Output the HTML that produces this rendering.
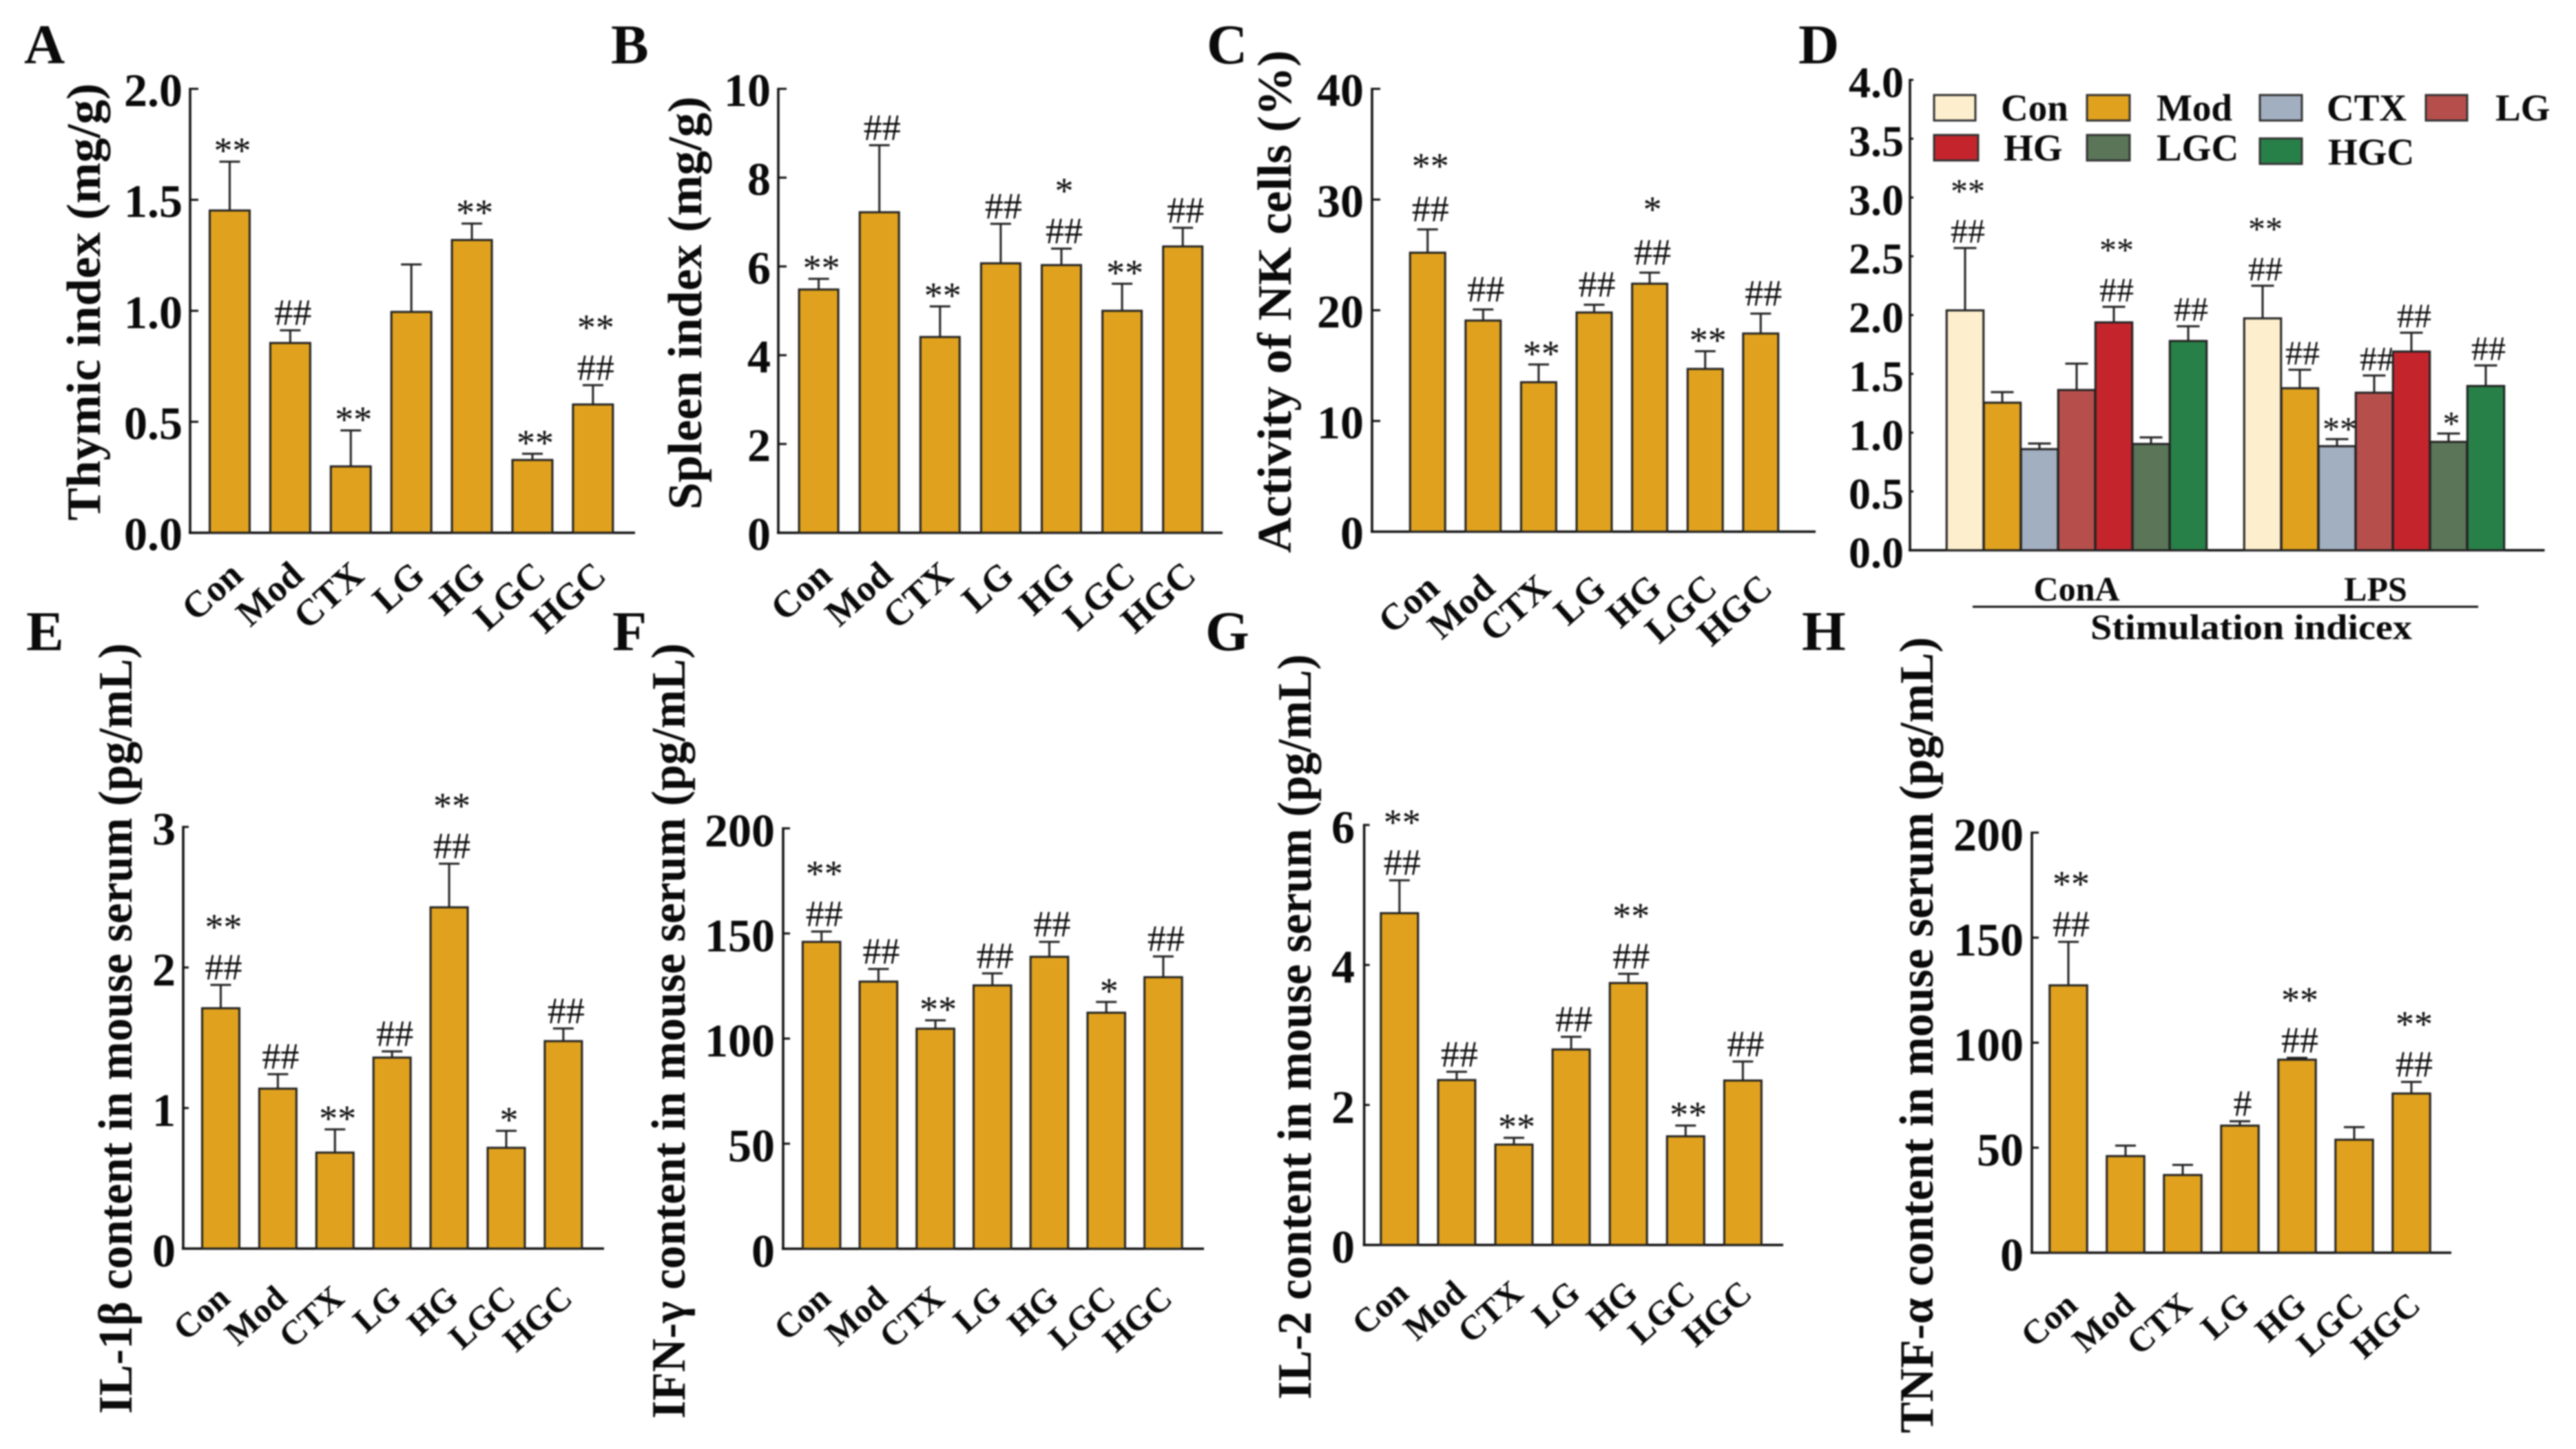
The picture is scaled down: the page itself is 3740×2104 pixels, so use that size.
<!DOCTYPE html>
<html lang="en">
<head>
<meta charset="utf-8">
<title>Immune index bar charts</title>
<style>
html,body{margin:0;padding:0;background:#fff;}
svg{display:block;filter:blur(1px);}
text{font-family:"Liberation Serif",serif;fill:#0a0a0a;}
.b{font-weight:bold;}
</style>
</head>
<body>
<svg id="figure" xmlns="http://www.w3.org/2000/svg" width="3740" height="2104" viewBox="0 0 3740 2104">
<rect x="0" y="0" width="3740" height="2104" fill="#fff"/>
<g class="b" font-size="82">
<text x="35" y="92">A</text>
<text x="887" y="92">B</text>
<text x="1752" y="92">C</text>
<text x="2611" y="92">D</text>
<text x="38" y="944">E</text>
<text x="889" y="944">F</text>
<text x="1750" y="944">G</text>
<text x="2616" y="944">H</text>
</g>
<g class="b" font-size="70">
<text transform="translate(145,756) rotate(-90)" textLength="635" lengthAdjust="spacingAndGlyphs">Thymic index (mg/g)</text>
<text transform="translate(1018,740) rotate(-90)" textLength="600" lengthAdjust="spacingAndGlyphs">Spleen index (mg/g)</text>
<text transform="translate(1874,803) rotate(-90)" textLength="730" lengthAdjust="spacingAndGlyphs">Activity of NK cells (%)</text>
<text transform="translate(191,2053) rotate(-90)" textLength="1119" lengthAdjust="spacingAndGlyphs">IL-1β content in mouse serum (pg/mL)</text>
<text transform="translate(994,2060) rotate(-90)" textLength="1126" lengthAdjust="spacingAndGlyphs">IFN-γ content in mouse serum (pg/mL)</text>
<text transform="translate(1903,2032) rotate(-90)" textLength="1082" lengthAdjust="spacingAndGlyphs">IL-2 content in mouse serum (pg/mL)</text>
<text transform="translate(2806,2081) rotate(-90)" textLength="1156" lengthAdjust="spacingAndGlyphs">TNF-α content in mouse serum (pg/mL)</text>
</g>
<g id="panels"></g>
<g id="legend" class="b" font-size="55" stroke-width="3">
<rect x="2808" y="138" width="60" height="37" fill="#FDEECD" stroke="#333"/>
<rect x="3030" y="138" width="62" height="37" fill="#E0A21E" stroke="#333"/>
<rect x="3281" y="138" width="61" height="37" fill="#A2AFC0" stroke="#333"/>
<rect x="3522" y="138" width="60" height="37" fill="#B64F4C" stroke="#333"/>
<rect x="2808" y="196" width="64" height="37" fill="#C4252D" stroke="#333"/>
<rect x="3030" y="196" width="62" height="37" fill="#5A7558" stroke="#333"/>
<rect x="3281" y="201" width="61" height="37" fill="#278048" stroke="#333"/>
<text x="2905" y="175">Con</text>
<text x="3131" y="175">Mod</text>
<text x="3378" y="175">CTX</text>
<text x="3623" y="175">LG</text>
<text x="2909" y="233">HG</text>
<text x="3131" y="233">LGC</text>
<text x="3380" y="239">HGC</text>
</g>
<g class="b">
<text x="3015" y="872" font-size="50" text-anchor="middle">ConA</text>
<text x="3449" y="872" font-size="50" text-anchor="middle">LPS</text>
<line x1="2864" y1="881" x2="3598" y2="881" stroke="#111" stroke-width="3"/>
<text x="3035" y="928" font-size="52" textLength="467" lengthAdjust="spacingAndGlyphs">Stimulation indicex</text>
</g>
</svg>
<script>
const categories = ['Con','Mod','CTX','LG','HG','LGC','HGC'];
const stimulationGroups = ['ConA','LPS'];
const seriesColors = ['#FDEECD','#E0A21E','#A2AFC0','#B64F4C','#C4252D','#5A7558','#278048'];

const thymicTicks = ['0.0','0.5','1.0','1.5','2.0'];
const thymicValues = [1.452,0.855,0.299,0.995,1.319,0.328,0.578];
const thymicErrors = [0.22,0.057,0.162,0.214,0.074,0.028,0.087];
const thymicMarks = ['**','##','**','','**','**','##|**'];

const spleenTicks = ['0','2','4','6','8','10'];
const spleenValues = [5.48,7.22,4.41,6.07,6.03,5.0,6.45];
const spleenErrors = [0.24,1.51,0.69,0.89,0.37,0.61,0.42];
const spleenMarks = ['**','##','**','##','##|*','**','##'];

const nkTicks = ['0','10','20','30','40'];
const nkValues = [25.2,19.07,13.5,19.8,22.4,14.7,17.9];
const nkErrors = [2.1,1.0,1.6,0.7,1.0,1.6,1.8];
const nkMarks = ['##|**','##','**','##','##|*','**','##'];

const stimTicks = ['0.0','0.5','1.0','1.5','2.0','2.5','3.0','3.5','4.0'];
const conaValues = [2.04,1.255,0.86,1.363,1.938,0.904,1.78];
const conaErrors = [0.53,0.09,0.048,0.224,0.132,0.056,0.125];
const conaMarks = ['##|**','','','','##|**','','##'];
const lpsValues = [1.972,1.378,0.885,1.34,1.69,0.922,1.397];
const lpsErrors = [0.278,0.157,0.06,0.146,0.16,0.071,0.175];
const lpsMarks = ['##|**','##','**','##','##','*','##'];

const il1Ticks = ['0','1','2','3'];
const il1Values = [1.71,1.138,0.683,1.359,2.428,0.717,1.476];
const il1Errors = [0.166,0.103,0.165,0.044,0.31,0.121,0.09];
const il1Marks = ['##|**','##','**','##','##|**','*','##'];

const ifnTicks = ['0','50','100','150','200'];
const ifnValues = [146,127.1,104.7,125.3,138.9,112.3,129.2];
const ifnErrors = [4.9,6,4,5.7,7.1,5.1,9.9];
const ifnMarks = ['##|**','##','**','##','##','*','##'];

const il2Ticks = ['0','2','4','6'];
const il2Values = [4.74,2.356,1.434,2.793,3.742,1.552,2.349];
const il2Errors = [0.47,0.118,0.097,0.18,0.132,0.153,0.271];
const il2Marks = ['##|**','##','**','##','##|**','**','##'];

const tnfTicks = ['0','50','100','150','200'];
const tnfValues = [127.3,46,37,60.5,91.9,53.8,75.8];
const tnfErrors = [20.7,5,4.8,2.1,0.9,6,5.5];
const tnfMarks = ['##|**','','','#','##|**','','##|**'];

const SVGNS = 'http://www.w3.org/2000/svg';
const root = document.getElementById('panels');

function make(parent, tag, attrs, content) {
  const el = document.createElementNS(SVGNS, tag);
  for (const k in attrs) el.setAttribute(k, attrs[k]);
  if (content !== undefined) el.textContent = content;
  parent.appendChild(el);
  return el;
}

function drawAxes(g, p, ticks) {
  const maxV = parseFloat(ticks[ticks.length - 1]);
  const y = v => p.base - (v / maxV) * (p.base - p.top);
  const yAxis = make(g, 'line', {x1: p.axisX, y1: p.top - 1.5, x2: p.axisX, y2: p.base, stroke: '#111', 'stroke-width': 3.5});
  
  
  const xAxis = make(g, 'line', {x1: p.axisX - 2, y1: p.base, x2: p.end, y2: p.base, stroke: '#111', 'stroke-width': 3.5});
  
  
  ticks.forEach(label => {
    const v = parseFloat(label);
    const tick = make(g, 'line', {x1: p.axisX, y1: y(v), x2: p.axisX + p.tickLen, y2: y(v), stroke: '#111', 'stroke-width': 3});
    
    
    const t = make(g, 'text', {x: p.tickRight, y: y(v) + p.tickDy, 'text-anchor': 'end', 'font-size': p.tickFont, 'font-weight': 'bold'}, label);
    
    
  });
  return y;
}

function drawBar(g, p, y, cx, value, error, marks, fill, name) {
  const errTop = y(value + error);
  const stem = make(g, 'line', {x1: cx, y1: errTop, x2: cx, y2: y(value), stroke: '#222', 'stroke-width': 3});
  
  
  const cap = make(g, 'line', {x1: cx - p.capW / 2, y1: errTop, x2: cx + p.capW / 2, y2: errTop, stroke: '#222', 'stroke-width': 3});
  
  
  const bar = make(g, 'rect', {x: cx - p.barW / 2, y: y(value), width: p.barW, height: p.base - y(value), fill: fill, stroke: '#222', 'stroke-width': 3});
  
  
  if (marks) {
    marks.split('|').forEach((m, i) => {
      const isHash = m.charAt(0) === '#';
      const offset = i === 0 ? (isHash ? 8 + p.hashLift : -2) : 66 + p.starLift;
      const t = make(g, 'text', {x: cx + 4, y: errTop - offset, 'text-anchor': 'middle', 'font-size': p.markFont}, m);
      
      
    });
  }
}

function drawPanel(id, p, ticks, values, errors, marks) {
  const g = make(root, 'g', {});
  
  
  const y = drawAxes(g, p, ticks);
  categories.forEach((cat, i) => {
    const cx = p.first + p.step * i;
    drawBar(g, p, y, cx, values[i], errors[i], marks[i], seriesColors[1], id + '-' + cat.toLowerCase());
    const lx = cx + p.labelDx;
    const ly = p.base + p.labelDy;
    const t = make(g, 'text', {x: lx, y: ly, 'text-anchor': 'end', 'font-size': p.labelFont, 'font-weight': 'bold', transform: 'rotate(-42 ' + lx + ' ' + ly + ')'}, cat);
    
    
  });
}

function common(o) {
  return Object.assign({barW: 55, capW: 30, tickLen: 12, tickFont: 68, tickDy: 25, labelFont: 54, labelDx: 22, labelDy: 66, markFont: 54, hashLift: 0, starLift: 0}, o);
}

drawPanel('a', common({axisX: 276, top: 129, base: 773.6, end: 922, first: 333.5, step: 87.9, barW: 58, tickRight: 265}), thymicTicks, thymicValues, thymicErrors, thymicMarks);
drawPanel('b', common({axisX: 1130, top: 129, base: 773.6, end: 1775, first: 1188.6, step: 88.1, barW: 57, tickRight: 1119}), spleenTicks, spleenValues, spleenErrors, spleenMarks);
drawPanel('c', common({axisX: 1992, top: 129, base: 772, end: 2636, first: 2072.7, step: 80.6, barW: 51, tickRight: 1980, labelDy: 86, labelDx: 20, hashLift: 4, starLift: 8}), nkTicks, nkValues, nkErrors, nkMarks);
drawPanel('e', common({axisX: 266, top: 1200.7, base: 1813, end: 877, first: 320.5, step: 82.9, barW: 54, tickLen: 8, tickDy: 26, tickRight: 255, labelDy: 76, labelDx: 16, labelFont: 50}), il1Ticks, il1Values, il1Errors, il1Marks);
drawPanel('f', common({axisX: 1137, top: 1202.8, base: 1813.3, end: 1748, first: 1192.7, step: 82.7, barW: 54.6, tickLen: 10, tickDy: 26, tickRight: 1125, labelDy: 76, labelDx: 16, labelFont: 50}), ifnTicks, ifnValues, ifnErrors, ifnMarks);
drawPanel('g', common({axisX: 1980.6, top: 1197.9, base: 1807.7, end: 2589, first: 2031.8, step: 83.1, barW: 54, tickLen: 8, tickDy: 26, tickRight: 1967, labelDy: 74, labelDx: 16, labelFont: 50}), il2Ticks, il2Values, il2Errors, il2Marks);
drawPanel('h', common({axisX: 2950, top: 1209, base: 1819, end: 3559, first: 3003, step: 83, barW: 54.5, tickLen: 10, tickDy: 26, tickRight: 2938, labelDy: 80, labelDx: 16, labelFont: 50}), tnfTicks, tnfValues, tnfErrors, tnfMarks);

const stimLayout = common({axisX: 2773, top: 116, base: 799, end: 3694.5, barW: 53.5, capW: 33, tickLen: 5, tickFont: 64, tickDy: 25, tickRight: 2764, markFont: 50});
const stimStart = 2853;
const stimSlot = 54;
const stimGroupSlots = 8;
const stimG = make(root, 'g', {});


const stimY = drawAxes(stimG, stimLayout, stimTicks);
[[conaValues, conaErrors, conaMarks], [lpsValues, lpsErrors, lpsMarks]].forEach((group, gi) => {
  categories.forEach((cat, i) => {
    const cx = stimStart + stimSlot * (stimGroupSlots * gi + i);
    drawBar(stimG, stimLayout, stimY, cx, group[0][i], group[1][i], group[2][i], seriesColors[i], 'd-' + stimulationGroups[gi].toLowerCase() + '-' + cat.toLowerCase());
  });
});
</script>
</body>
</html>
